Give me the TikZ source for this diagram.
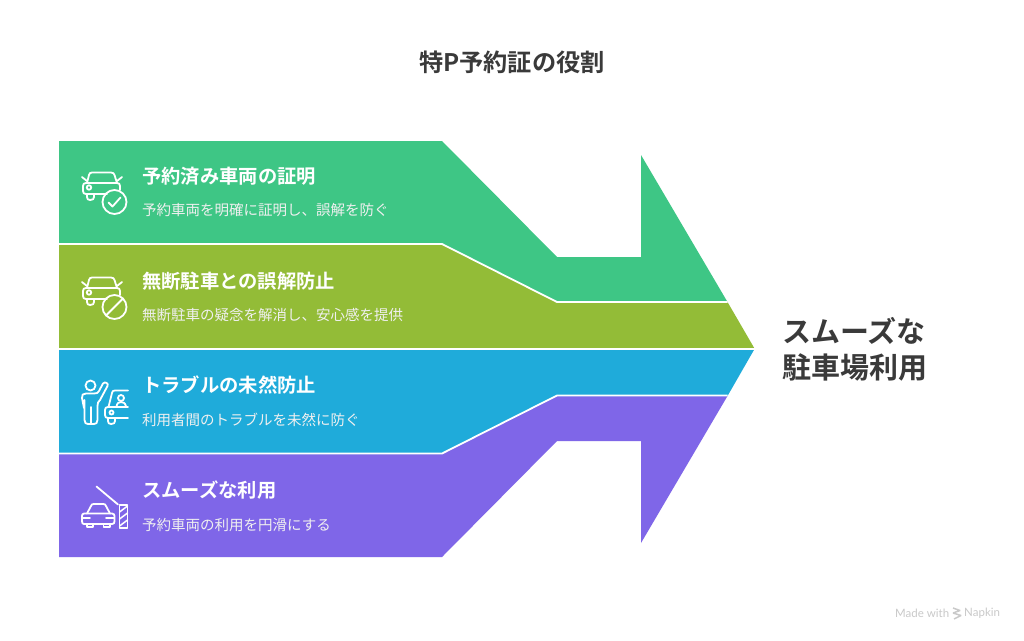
\documentclass[tikz,border=0pt]{standalone}
\usepackage{fontspec}
\setmainfont{Noto Sans CJK JP}[BoldFont={Noto Sans CJK JP Bold}]
\newfontfamily\latinfont{Lato}
\definecolor{cgreen}{HTML}{3EC685}
\definecolor{colive}{HTML}{93BC37}
\definecolor{cblue}{HTML}{1FABDA}
\definecolor{cpurple}{HTML}{7F66E8}
\definecolor{cdark}{HTML}{3A3A3A}
\definecolor{cmark}{HTML}{C9C9C9}
\tikzset{
  x=1pt,y=-1pt,
  band/.style={draw=white,line width=1.8pt,line join=miter},
  head/.style={anchor=west,inner sep=0pt,text=white,font=\fontsize{19.3}{23}\selectfont\bfseries},
  sub/.style={anchor=west,inner sep=0pt,text=white!94!black,font=\fontsize{14.5}{18}\selectfont},
  icon/.style={draw=white,line width=1.8pt,line join=round,line cap=round},
  wmark/.style={anchor=west,inner sep=0pt,text=cmark,font=\latinfont\fontsize{11.5}{14}\selectfont},
}
\newcommand{\caricon}{%
  \draw[icon] (87,183) -- (89,175) .. controls (89.5,173.5) and (90,172.5) .. (92,172.5) -- (111,172.5) .. controls (113,172.5) and (114,173.5) .. (114.5,175) -- (117,183);
  \draw[icon] (107,194) -- (86,194) .. controls (84,194) and (83,193) .. (83,191) -- (83,186) .. controls (83,184) and (84,183) .. (86,183) -- (117,183) .. controls (119,183) and (120,184) .. (120,186) -- (120,190);
  \draw[icon] (82,177) -- (87,181) (122,177) -- (117,181);
  \draw[icon] (87,194) -- (87,197) .. controls (87,199) and (88,200) .. (90,200) .. controls (93,200) and (94,199) .. (94,197) -- (94,194);
  \draw[icon] (89,187.5) circle[radius=2.2];
  \draw[icon] (114.5,202) circle[radius=12];
}
\begin{document}
\begin{tikzpicture}
\useasboundingbox (0,0) rectangle (1024,640);
\fill[white] (0,0) rectangle (1024,640);
\path[band,fill=cgreen,draw=none] (59,141) -- (442,141) -- (557,257) -- (641,257) -- (641,155) -- (727.5,302) -- (557,302) -- (442,244) -- (59,244) -- cycle;
\path[band,fill=cpurple,draw=none] (59,454) -- (442,454) -- (557,396) -- (727.5,396) -- (641,543) -- (641,441) -- (557,441) -- (442,557) -- (59,557) -- cycle;
\path[band,fill=colive,draw=none] (59,244) -- (442,244) -- (557,302) -- (727.5,302) -- (754.5,348.5) -- (59,348.5) -- cycle;
\path[band,fill=cblue,draw=none] (59,349) -- (754.5,349) -- (727.5,396) -- (557,396) -- (442,454) -- (59,454) -- cycle;
\coordinate (l1) at (59,244);\coordinate (l1b) at (442,244);\coordinate (l1c) at (557,302);\coordinate (l1d) at (727.5,302);
\coordinate (l2) at (59,348.7);\coordinate (l2d) at (754.5,348.7);
\coordinate (l3) at (59,453.5);\coordinate (l3b) at (442,453.5);\coordinate (l3c) at (557,395.5);\coordinate (l3d) at (727.5,395.5);
\draw[band] (l1) -- (l1b) -- (l1c) -- (l1d);
\draw[band] (l2) -- (l2d);
\draw[band] (l3) -- (l3b) -- (l3c) -- (l3d);

\node[inner sep=0pt,text=cdark,font=\fontsize{24.2}{28}\selectfont\bfseries] (title) at (512,62) {特P予約証の役割};

\node[head] (h1) at (142,176) {予約済み車両の証明};
\node[sub] (s1) at (142,210) {予約車両を明確に証明し、誤解を防ぐ};
\node[head] (h2) at (142,281) {無断駐車との誤解防止};
\node[sub] (s2) at (142,315) {無断駐車の疑念を解消し、安心感を提供};
\node[head] (h3) at (142,385) {トラブルの未然防止};
\node[sub] (s3) at (142,420) {利用者間のトラブルを未然に防ぐ};
\node[head] (h4) at (142,490) {スムーズな利用};
\node[sub] (s4) at (142,525) {予約車両の利用を円滑にする};

\node[anchor=west,inner sep=0pt,align=left,text=cdark,font=\fontsize{29}{36}\selectfont\bfseries] (goal) at (782,349) {スムーズな\\駐車場利用};

% icon 1
\caricon
\draw[icon] (108.5,202.5) -- (112.5,206.5) -- (120.5,197.5);
% icon 2
\begin{scope}[yshift=-105pt]
\caricon
\draw[icon] (106,210.5) -- (123,193.5);
\end{scope}
% icon 3
\draw[icon] (90.5,385.5) circle[radius=5];
\draw[icon] (84,408) -- (82,398) .. controls (81.5,395) and (83,393.5) .. (86,393.5) -- (94,393.5) .. controls (97,393.5) and (98,393) .. (99,391) -- (103,383.5) .. controls (105,381) and (109,383.5) .. (107.5,386) -- (100,400) .. controls (98,402) and (97.5,403) .. (97.5,406) -- (97.5,420) .. controls (97.5,423) and (96,424) .. (94,424) -- (88,424) .. controls (86,424) and (84.5,423) .. (84.5,420) -- (84.5,400);
\draw[icon] (91,407) -- (91,424);
\draw[icon] (128,390.5) -- (115,390.5) .. controls (113,390.5) and (112.5,391) .. (112,393) -- (108.5,407);
\draw[icon] (128,418) -- (108,418) .. controls (106,418) and (105,417) .. (105,415) -- (105,410) .. controls (105,408) and (106,407) .. (108,407) -- (128,407);
\draw[icon] (108,418) -- (108,421) .. controls (108,423) and (109,424) .. (111,424) .. controls (114,424) and (115,423) .. (115,421) -- (115,418);
\draw[icon] (111.5,412.5) circle[radius=2];
\draw[icon] (121,398) circle[radius=3];
\draw[icon] (116.5,406.5) .. controls (117,403) and (119,402) .. (121,402) .. controls (123,402) and (125.5,403) .. (126,406.5);
% icon 4
\draw[icon] (96.5,486.5) -- (118,504.5);
\draw[icon] (119.5,505) rectangle (127.5,528);
\draw[icon,line width=1.5pt] (119.5,512) -- (127.5,506) (119.5,519) -- (127.5,513) (119.5,526) -- (127.5,520);
\draw[icon] (87,513.5) -- (91,506) .. controls (91.5,504.5) and (92,504) .. (94,504) -- (103,504) .. controls (105,504) and (105.5,504.5) .. (106,506) -- (110,513.5);
\draw[icon] (84,513.5) -- (112,513.5) .. controls (114,513.5) and (114.5,515) .. (114.5,516) -- (114.5,521) .. controls (114.5,523) and (114,524) .. (112,524) -- (84,524) .. controls (82.5,524) and (82,523) .. (82,521) -- (82,516) .. controls (82,515) and (82.5,513.5) .. (84,513.5);
\draw[icon] (82.5,518) -- (90,518) (106,518) -- (114,518);
\draw[icon] (87,524) -- (87,527) -- (93,527) -- (93,524) (103.5,524) -- (103.5,527) -- (110,527) -- (110,524);

% watermark
\node[wmark] (m1) at (895,613.5) {Made with};
\draw[cmark,line width=1.5pt,line join=bevel] (953,608) -- (960,610.5) -- (953,613) -- (961,615.5) -- (954,619);
\node[wmark] (m2) at (964,613.5) {Napkin};
\end{tikzpicture}
\end{document}
